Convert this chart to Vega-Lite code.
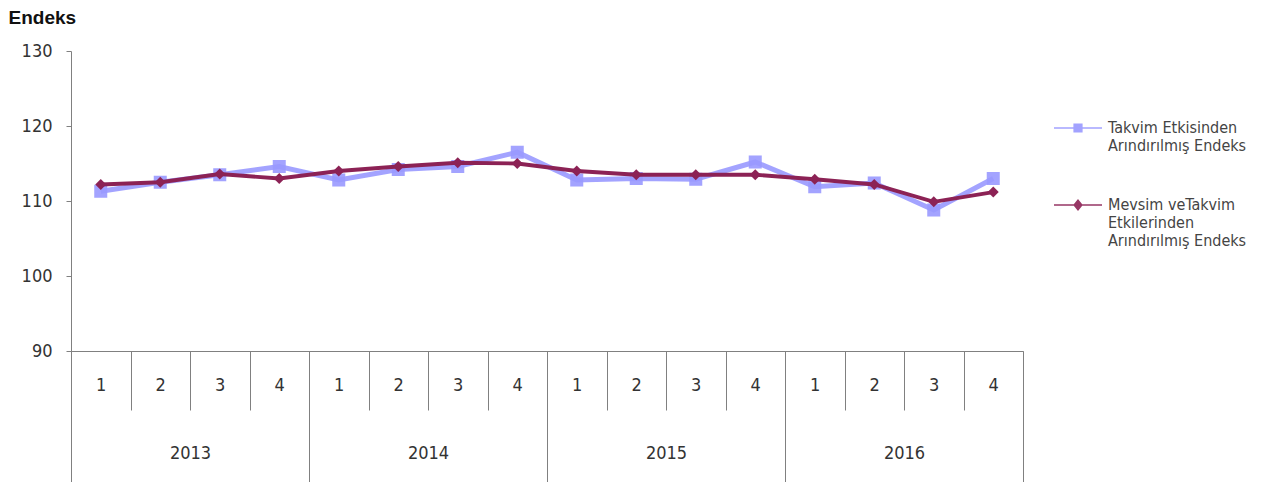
{
  "$schema": "https://vega.github.io/schema/vega-lite/v6.json",
  "width": 952,
  "height": 300,
  "autosize": "none",
  "padding": {"left": 71, "top": 51, "right": 243, "bottom": 131},
  "background": "white",
  "config": {"view": {"stroke": null}, "font": "DejaVu Sans Condensed, DejaVu Sans"},
  "datasets": {
    "d": [
      {"donem": "2013-1", "yil": "2013", "seri": "Takvim Etkisinden Arındırılmış Endeks", "endeks": 111.3},
      {"donem": "2013-2", "yil": "2013", "seri": "Takvim Etkisinden Arındırılmış Endeks", "endeks": 112.5},
      {"donem": "2013-3", "yil": "2013", "seri": "Takvim Etkisinden Arındırılmış Endeks", "endeks": 113.5},
      {"donem": "2013-4", "yil": "2013", "seri": "Takvim Etkisinden Arındırılmış Endeks", "endeks": 114.6},
      {"donem": "2014-1", "yil": "2014", "seri": "Takvim Etkisinden Arındırılmış Endeks", "endeks": 112.8},
      {"donem": "2014-2", "yil": "2014", "seri": "Takvim Etkisinden Arındırılmış Endeks", "endeks": 114.2},
      {"donem": "2014-3", "yil": "2014", "seri": "Takvim Etkisinden Arındırılmış Endeks", "endeks": 114.6},
      {"donem": "2014-4", "yil": "2014", "seri": "Takvim Etkisinden Arındırılmış Endeks", "endeks": 116.5},
      {"donem": "2015-1", "yil": "2015", "seri": "Takvim Etkisinden Arındırılmış Endeks", "endeks": 112.8},
      {"donem": "2015-2", "yil": "2015", "seri": "Takvim Etkisinden Arındırılmış Endeks", "endeks": 113.0},
      {"donem": "2015-3", "yil": "2015", "seri": "Takvim Etkisinden Arındırılmış Endeks", "endeks": 112.9},
      {"donem": "2015-4", "yil": "2015", "seri": "Takvim Etkisinden Arındırılmış Endeks", "endeks": 115.2},
      {"donem": "2016-1", "yil": "2016", "seri": "Takvim Etkisinden Arındırılmış Endeks", "endeks": 111.9},
      {"donem": "2016-2", "yil": "2016", "seri": "Takvim Etkisinden Arındırılmış Endeks", "endeks": 112.4},
      {"donem": "2016-3", "yil": "2016", "seri": "Takvim Etkisinden Arındırılmış Endeks", "endeks": 108.8},
      {"donem": "2016-4", "yil": "2016", "seri": "Takvim Etkisinden Arındırılmış Endeks", "endeks": 113.0},
      {"donem": "2013-1", "yil": "2013", "seri": "Mevsim veTakvim Etkilerinden Arındırılmış Endeks", "endeks": 112.2},
      {"donem": "2013-2", "yil": "2013", "seri": "Mevsim veTakvim Etkilerinden Arındırılmış Endeks", "endeks": 112.5},
      {"donem": "2013-3", "yil": "2013", "seri": "Mevsim veTakvim Etkilerinden Arındırılmış Endeks", "endeks": 113.6},
      {"donem": "2013-4", "yil": "2013", "seri": "Mevsim veTakvim Etkilerinden Arındırılmış Endeks", "endeks": 113.0},
      {"donem": "2014-1", "yil": "2014", "seri": "Mevsim veTakvim Etkilerinden Arındırılmış Endeks", "endeks": 114.0},
      {"donem": "2014-2", "yil": "2014", "seri": "Mevsim veTakvim Etkilerinden Arındırılmış Endeks", "endeks": 114.6},
      {"donem": "2014-3", "yil": "2014", "seri": "Mevsim veTakvim Etkilerinden Arındırılmış Endeks", "endeks": 115.1},
      {"donem": "2014-4", "yil": "2014", "seri": "Mevsim veTakvim Etkilerinden Arındırılmış Endeks", "endeks": 115.0},
      {"donem": "2015-1", "yil": "2015", "seri": "Mevsim veTakvim Etkilerinden Arındırılmış Endeks", "endeks": 114.0},
      {"donem": "2015-2", "yil": "2015", "seri": "Mevsim veTakvim Etkilerinden Arındırılmış Endeks", "endeks": 113.5},
      {"donem": "2015-3", "yil": "2015", "seri": "Mevsim veTakvim Etkilerinden Arındırılmış Endeks", "endeks": 113.5},
      {"donem": "2015-4", "yil": "2015", "seri": "Mevsim veTakvim Etkilerinden Arındırılmış Endeks", "endeks": 113.5},
      {"donem": "2016-1", "yil": "2016", "seri": "Mevsim veTakvim Etkilerinden Arındırılmış Endeks", "endeks": 112.9},
      {"donem": "2016-2", "yil": "2016", "seri": "Mevsim veTakvim Etkilerinden Arındırılmış Endeks", "endeks": 112.2},
      {"donem": "2016-3", "yil": "2016", "seri": "Mevsim veTakvim Etkilerinden Arındırılmış Endeks", "endeks": 109.9},
      {"donem": "2016-4", "yil": "2016", "seri": "Mevsim veTakvim Etkilerinden Arındırılmış Endeks", "endeks": 111.2}
    ]
  },
  "data": {"name": "d"},
  "layer": [
    {
      "encoding": {
        "x": {
          "field": "donem", "type": "nominal", "sort": null,
          "scale": {"type": "band", "paddingInner": 0, "paddingOuter": 0},
          "axis": {
            "orient": "bottom", "title": null, "labelAngle": 0,
            "labelExpr": "split(datum.value, '-')[1]",
            "tickBand": "extent", "tickSize": 59, "labelPadding": -34,
            "domainColor": "#808080", "tickColor": "#808080",
            "labelFontSize": 18, "labelColor": "#333333"
          }
        },
        "y": {
          "field": "endeks", "type": "quantitative",
          "scale": {"domain": [90, 130], "zero": false, "nice": false},
          "axis": {
            "values": [90, 100, 110, 120, 130], "grid": false,
            "tickSize": 5, "labelPadding": 14,
            "domainColor": "#808080", "tickColor": "#808080",
            "labelFontSize": 18, "labelColor": "#333333",
            "title": "Endeks", "titleAngle": 0, "titleAlign": "left", "titleBaseline": "top",
            "titleX": -63, "titleY": -43, "titleFontSize": 19, "titleFontWeight": "bold",
            "titleColor": "#111111", "titleFont": "Liberation Sans"
          }
        },
        "color": {
          "field": "seri", "type": "nominal",
          "scale": {
            "domain": ["Takvim Etkisinden Arındırılmış Endeks", "Mevsim veTakvim Etkilerinden Arındırılmış Endeks"],
            "range": ["#9999ff", "#8c2255"]
          },
          "legend": {
            "title": null, "orient": "none", "legendX": 982, "legendY": 52,
            "symbolSize": 2304, "symbolStrokeWidth": 1.5,
            "labelFont": "DejaVu Sans Condensed, DejaVu Sans", "labelFontSize": 16, "labelLineHeight": 19, "labelColor": "#444444",
            "labelBaseline": "top", "labelOffset": 5, "rowPadding": 26, "labelLimit": 300,
            "labelExpr": "indexof(datum.label, 'Mevsim') >= 0 ? ['Mevsim veTakvim', 'Etkilerinden', 'Arındırılmış Endeks'] : ['Takvim Etkisinden', 'Arındırılmış Endeks']",
            "encoding": {
              "symbols": {
                "shape": {"value": {"expr": "indexof(datum.value, 'Mevsim') >= 0 ? 'M-1,0H1M0,-0.2L0.16,0L0,0.2L-0.16,0Z' : 'M-1,0H1M-0.16,-0.16H0.16V0.16H-0.16Z'"}},
                "fill": {"value": {"expr": "scale('color', datum.value)"}}
              },
              "labels": {"dy": {"value": -8}}
            }
          }
        }
      },
      "layer": [
        {"transform": [{"filter": "indexof(datum.seri, 'Mevsim') < 0"}], "mark": {"type": "line", "strokeWidth": 5, "opacity": 0.9}},
        {"transform": [{"filter": "indexof(datum.seri, 'Mevsim') < 0"}], "mark": {"type": "point", "shape": "square", "filled": true, "size": 170, "opacity": 0.9}},
        {"transform": [{"filter": "indexof(datum.seri, 'Mevsim') >= 0"}], "mark": {"type": "line", "strokeWidth": 3.8}},
        {"transform": [{"filter": "indexof(datum.seri, 'Mevsim') >= 0"}], "mark": {"type": "point", "shape": "diamond", "filled": true, "size": 120, "opacity": 1}}
      ]
    },
    {
      "mark": {"type": "rule", "strokeOpacity": 0},
      "encoding": {
        "x": {
          "field": "yil", "type": "nominal",
          "scale": {"type": "band", "paddingInner": 0, "paddingOuter": 0},
          "axis": {
            "orient": "bottom", "title": null, "labelAngle": 0, "domain": false,
            "tickBand": "extent", "tickSize": 131, "labelPadding": -38,
            "tickColor": "#808080", "labelFontSize": 18, "labelColor": "#333333"
          }
        }
      }
    }
  ],
  "resolve": {"scale": {"x": "independent"}}
}
